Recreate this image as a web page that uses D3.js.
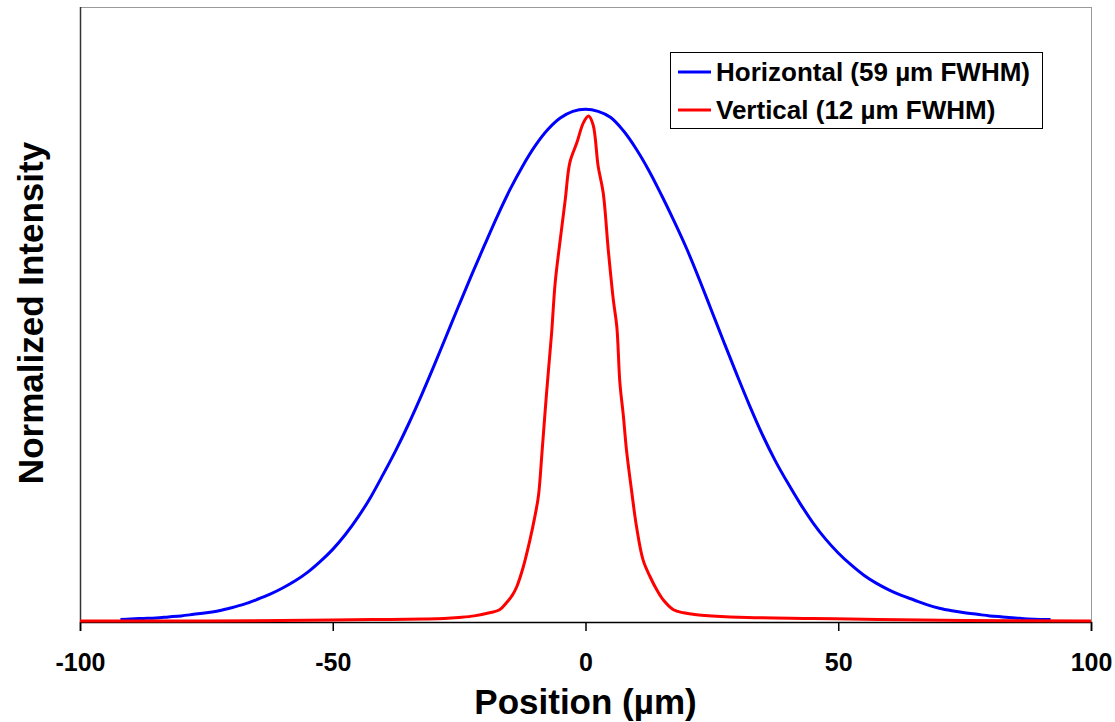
<!DOCTYPE html>
<html><head><meta charset="utf-8">
<script src="https://cdn.jsdelivr.net/npm/d3@7"></script>
<style>body{margin:0;background:#fff}svg{display:block}text{font-family:"Liberation Sans",Arial,sans-serif;font-weight:bold;fill:#000}</style>
</head><body>
<svg id="c" width="1115" height="722"></svg>
<script>
const xTicks = [-100, -50, 0, 50, 100];
const xTickLabels = ["-100", "-50", "0", "50", "100"];
const seriesNames = ["Horizontal (59 µm FWHM)", "Vertical (12 µm FWHM)"];
const seriesColors = ["#0000FF", "#FF0000"];

const horizX = [-92,-90,-87.5,-85,-82.5,-80,-77.5,-75,-72.5,-70,-67.5,-65,-62.5,-60,-57.5,-55,-52.5,-50,-47.5,-45,-42.5,-40,-37.5,-35,-32.5,-30,-27.5,-25,-22.5,-20,-17.5,-15,-12.5,-10,-7.5,-5,-2.5,0,2.5,5,7.5,10,12.5,15,17.5,20,22.5,25,27.5,30,32.5,35,37.5,40,42.5,45,47.5,50,52.5,55,57.5,60,62.5,65,67.5,70,72.5,75,77.5,80,82.5,85,87.5,90,92];
const horizY = [0.003,0.004,0.005,0.006,0.008,0.010,0.013,0.016,0.020,0.026,0.033,0.042,0.052,0.064,0.078,0.095,0.116,0.140,0.169,0.203,0.242,0.287,0.334,0.385,0.440,0.498,0.558,0.618,0.677,0.734,0.790,0.842,0.888,0.928,0.960,0.983,0.996,1.000,0.996,0.984,0.958,0.923,0.881,0.833,0.782,0.728,0.668,0.605,0.542,0.480,0.420,0.364,0.314,0.270,0.229,0.192,0.160,0.133,0.110,0.090,0.074,0.061,0.050,0.041,0.032,0.025,0.020,0.016,0.013,0.010,0.008,0.006,0.004,0.003,0.003];

const vertX = [-100,-75,-50,-40,-32,-28,-25,-22,-19,-17,-15.6,-14.5,-13.6,-12.3,-11,-10,-9.3,-8.6,-7.7,-6.7,-6,-5,-4,-3.1,-1.7,-0.4,0.6,1.5,2.5,3.5,4.5,5.5,6.2,6.8,7.5,8.1,9.1,10.1,11.4,12.8,14.1,15.4,17.4,19.4,22,25,32,45,58,75,100];
const vertY = [0.000,0.000,0.002,0.003,0.004,0.005,0.007,0.010,0.016,0.022,0.036,0.050,0.067,0.106,0.158,0.205,0.245,0.330,0.446,0.563,0.661,0.745,0.824,0.896,0.935,0.974,0.987,0.970,0.889,0.837,0.726,0.628,0.575,0.466,0.400,0.335,0.256,0.184,0.119,0.086,0.061,0.041,0.022,0.016,0.012,0.010,0.007,0.005,0.003,0.001,0.000];

const L = 80, R = 1091, T = 7, B = 622;
const svg = d3.select("#c");
const x = d3.scaleLinear().domain([-100, 100]).range([L, R]);
const y = d3.scaleLinear().domain([0, 1.2]).range([B - 1, T]);

// frame
svg.append("line").attr("x1", L).attr("x2", R).attr("y1", T + 0.5).attr("y2", T + 0.5).attr("stroke", "#999").attr("stroke-width", 1);
svg.append("line").attr("x1", R + 0.5).attr("x2", R + 0.5).attr("y1", T).attr("y2", B).attr("stroke", "#999").attr("stroke-width", 1);
svg.append("line").attr("x1", L + 0.5).attr("x2", L + 0.5).attr("y1", T).attr("y2", B).attr("stroke", "#333").attr("stroke-width", 1.5);

// x axis
const xAxis = d3.axisBottom(x).tickValues(xTicks).tickFormat((d, i) => xTickLabels[i]).tickSize(9).tickPadding(22);
const gx = svg.append("g").attr("transform", `translate(0,${B})`).call(xAxis);
gx.select(".domain").attr("stroke", "#000").attr("stroke-width", 1.5);
gx.selectAll(".tick line").attr("stroke", "#000").attr("stroke-width", 1.5);
gx.selectAll(".tick text").style("font-family", '"Liberation Sans",Arial,sans-serif').style("font-weight", "bold").style("font-size", "25px").attr("fill", "#000");

// series
const line = d3.line().x(d => x(d[0])).y(d => y(d[1])).curve(d3.curveCatmullRom.alpha(0.5));
svg.append("path").datum(horizX.map((v, i) => [v, horizY[i]])).attr("d", line).attr("fill", "none").attr("stroke", seriesColors[0]).attr("stroke-width", 3);
svg.append("path").datum(vertX.map((v, i) => [v, vertY[i]])).attr("d", line).attr("fill", "none").attr("stroke", seriesColors[1]).attr("stroke-width", 3);

// axis titles
svg.append("text").attr("x", (L + R) / 2).attr("y", 714).attr("text-anchor", "middle").style("font-size", "35px").text("Position (µm)");
svg.append("text").attr("transform", `translate(43,${313}) rotate(-90)`).attr("text-anchor", "middle").style("font-size", "35px").text("Normalized Intensity");

// legend
const lg = svg.append("g");
lg.append("rect").attr("x", 670.5).attr("y", 52.5).attr("width", 372).attr("height", 76).attr("fill", "#fff").attr("stroke", "#000").attr("stroke-width", 1);
seriesNames.forEach((name, i) => {
  const cy = 72 + i * 38;
  lg.append("line").attr("x1", 678).attr("x2", 711).attr("y1", cy).attr("y2", cy).attr("stroke", seriesColors[i]).attr("stroke-width", 3);
  lg.append("text").attr("x", 716).attr("y", cy + 9).style("font-size", "26px").text(name);
});
</script>
</body></html>
